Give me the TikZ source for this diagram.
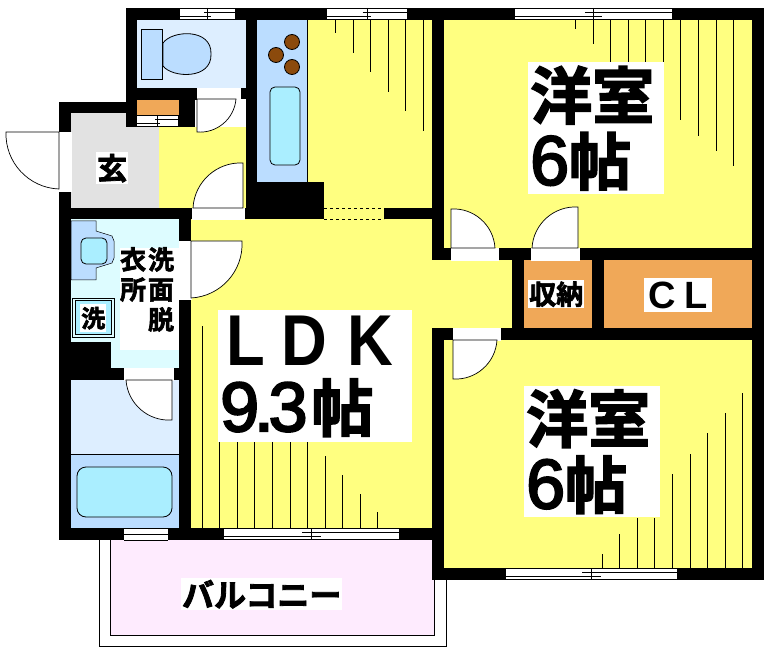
\documentclass[tikz,border=0pt]{standalone}
\usepackage{fontspec}
\setmainfont{Liberation Sans}
\newfontfamily\jpfont[FakeBold=2.5]{Noto Sans CJK JP Bold}
\newfontfamily\numfont[FakeBold=3]{Liberation Sans}
\newfontfamily\capfont[FakeStretch=0.88]{Liberation Sans Bold}
\newfontfamily\clfont{Liberation Sans Bold}

\definecolor{floory}{HTML}{FFFF80}
\definecolor{closet}{HTML}{F0A858}
\definecolor{hallgray}{HTML}{E2E2E2}
\definecolor{palewet}{HTML}{DDEEFF}
\definecolor{paleaqua}{HTML}{DDFCFF}
\definecolor{midblue}{HTML}{BBDDFF}
\definecolor{aqua}{HTML}{AAEEFF}
\definecolor{hob}{HTML}{8B4A0C}
\definecolor{balcony}{HTML}{FEEBFE}

\tikzset{
    wall/.style={fill=black},
    opening/.style={fill=white},
    hatch/.style={line width=0.8pt},
    swing/.style={draw, fill=white, line width=0.7pt},
    thinline/.style={line width=0.8pt},
    fixture/.style={draw, line width=0.8pt},
    roomlabel/.style={fill=white, inner sep=0pt, font=\jpfont, anchor=north west},
}

\begin{document}
\begin{tikzpicture}[x=1pt, y=-1pt]
    \useasboundingbox (0,0) rectangle (768,652);

    % Floor colours
    \fill[floory] (191,219) rectangle (432,528);
    \fill[floory] (432,260) rectangle (512,328);
    \fill[floory] (307,20) rectangle (432,219);
    \fill[floory] (444,20) rectangle (752,248);
    \fill[floory] (444,340) rectangle (752,568);
    \fill[floory] (159,127) rectangle (246,208);
    \fill[hallgray] (71,113) rectangle (159,208);
    \fill[closet] (524,260) rectangle (592,328);
    \fill[closet] (604,260) rectangle (752,328);
    \fill[closet] (137,100) rectangle (179,115);
    \fill[palewet] (137,20) rectangle (246,88);
    \fill[paleaqua] (71,219) rectangle (179,368);
    \fill[palewet] (71,380) rectangle (179,454);
    \fill[midblue] (71,454) rectangle (179,528);
    \fill[midblue] (257,20) rectangle (307,182);
    \draw[thinline] (307,20) -- (307,182);
    \draw[thinline] (71,454) -- (179,454);

    % Balcony
    \draw[thinline, fill=balcony] (110,540) -- (110,635) -- (434,635) -- (434,540);
    \draw[thinline] (99,540) -- (99,646) -- (446,646) -- (446,580);

    % Sloped ceiling marks in the rooms
    \foreach \xx/\yy in {335/33,353/53,370/72,388/92,405/111,423/131,
                         575/29,593/44,610/62,628/62,645/62,663/62,680/120,698/136,716/151,733/166} {
        \draw[hatch] (\xx,20) -- (\xx,\yy);
    }
    \foreach \xx/\yy in {202/326,219/442,237/442,254/442,272/442,290/442,307/442,325/456,342/475,360/494,377/512} {
        \draw[hatch] (\xx,528) -- (\xx,\yy);
    }
    \foreach \xx/\yy in {602/554,619/534,637/518,654/518,672/474,690/454,707/433,725/413,742/393} {
        \draw[hatch] (\xx,568) -- (\xx,\yy);
    }

    % Walls
    \foreach \xa/\ya/\xb/\yb in {126/8/180/20, 235/8/327/20, 407/8/515/20, 672/8/764/20,
                                 126/8/137/127, 126/88/197/100, 240/88/257/99, 179/88/195/127,
                                 178/115/195/127, 59/102/137/113, 59/102/71/132, 59/191/71/540,
                                 59/208/192/219, 244/208/257/219, 246/8/257/208, 246/182/324/219,
                                 179/219/191/241, 179/299/191/528, 71/342/111/368, 71/368/124/380,
                                 173/368/191/380, 59/528/124/540, 168/528/224/540, 399/528/444/540,
                                 432/8/444/260, 384/208/432/219, 432/248/451/260, 498/248/531/260,
                                 579/248/764/260, 432/328/453/340, 500/328/764/340, 512/260/524/328,
                                 592/260/604/328, 752/8/764/580, 432/328/444/580, 432/568/506/580,
                                 677/568/764/580} {
        \fill[wall] (\xa,\ya) rectangle (\xb,\yb);
    }

    % Door openings
    \foreach \xa/\ya/\xb/\yb in {197/88/240/99, 192/208/244/219, 59/132/71/191, 179/241/191/299,
                                 124/368/173/380, 451/248/498/260, 531/248/579/260, 453/328/500/340} {
        \draw[opening, line width=0.4pt, draw=white] (\xa,\ya) rectangle (\xb,\yb);
    }

    % Doors: hinge, leaf end, swing end
    \foreach \hx/\hy/\ax/\ay/\bx/\by/\bend in {197/99/197/132/236/99/right, 243/208/243/163/193/208/right,
                                               59/132/6/132/59/189/right, 191/241/242/241/191/298/left,
                                               172/380/126/380/172/420/right, 451/248/451/209/495/248/left,
                                               578/248/578/207/532/248/right, 453/340/453/379/497/340/right} {
        \draw[swing] (\hx,\hy) -- (\ax,\ay) to[bend \bend=45] (\bx,\by) -- cycle;
    }

    % Windows
    \foreach \xa/\xb/\yy in {180/235/8, 327/407/8, 515/672/8, 137/178/115, 224/399/528, 506/677/568} {
        \pgfmathsetmacro{\xm}{(\xa+\xb)/2}
        \pgfmathsetmacro{\xo}{0.055*(\xb-\xa)}
        \fill[white] (\xa,\yy) rectangle (\xb,\yy+12);
        \draw[thinline] (\xa,\yy) -- (\xb,\yy);
        \draw[thinline] (\xa,\yy+11.5) -- (\xb,\yy+11.5);
        \draw[thinline] (\xm-\xo,\yy+4.5) -- (\xb,\yy+4.5);
        \draw[thinline] (\xa,\yy+8) -- (\xm+\xo,\yy+8);
        \draw[thinline] (\xm,\yy) -- (\xm,\yy+11.5);
    }
    \fill[white] (124,528) rectangle (168,540);
    \foreach \yy in {528,534,540} {
        \draw[thinline] (124,\yy) -- (168,\yy);
    }

    % Dashed opening to the kitchen
    \draw[thinline, dashed] (324,208) -- (384,208);
    \draw[thinline, dashed] (324,219) -- (384,219);

    % Kitchen
    \foreach \xx/\yy in {292/42,276/55,292/67} {
        \draw[fixture, fill=hob] (\xx,\yy) circle (7.5);
    }
    \draw[fixture, fill=aqua, rounded corners=5] (270,87) rectangle (300,165);

    % Toilet
    \draw[fixture, fill=midblue] (163,43) .. controls (172,30) and (212,28) .. (211,54)
        .. controls (212,80) and (172,78) .. (163,66) -- cycle;
    \draw[fixture, fill=midblue] (141,29) rectangle (162,79);

    % Basin
    \draw[fixture, line width=0.5pt, fill=midblue] (71,221) -- (96,221) -- (96,231) -- (112,236) -- (114,241)
        -- (114,258) -- (112,263) -- (96,268) -- (96,280) -- (71,280) -- cycle;
    \draw[fixture, fill=aqua, rounded corners=5] (81,238) rectangle (107,264);

    % Washing machine
    \draw[fixture, line width=0.6pt] (72,298) rectangle (114,337);
    \draw[fixture, line width=0.6pt, fill=aqua] (75,300) rectangle (111,334);

    % Bath
    \draw[fixture, fill=aqua, rounded corners=9] (77,467) rectangle (172,517);

    % Labels
    \node[roomlabel, minimum width=136, minimum height=132, text width=136, align=left,
          font=\jpfont\fontsize{62}{66}\selectfont] (room1) at (528,62)
        {\hspace*{2pt}洋室\\\hspace*{2pt}{\numfont\fontsize{70}{66}\selectfont 6}帖};
    \node[roomlabel, minimum width=136, minimum height=131, text width=136, align=left,
          font=\jpfont\fontsize{62}{66}\selectfont] (room2) at (524,386)
        {\hspace*{2pt}洋室\\\hspace*{2pt}{\numfont\fontsize{70}{66}\selectfont 6}帖};
    \node[roomlabel, minimum width=194, minimum height=132, text width=194, align=left,
          font=\jpfont\fontsize{62}{66}\selectfont] (ldk) at (218,310)
        {\hspace*{8pt}{\capfont\fontsize{72}{66}\selectfont L\hspace{17pt}D\hspace{20pt}K}\\%
         \hspace*{2pt}{\numfont\fontsize{70}{66}\selectfont 9\hspace{-5pt}.\hspace{-5pt}3}\hspace{4pt}帖};
    \node[roomlabel, minimum width=32, minimum height=32, font=\jpfont\fontsize{30}{30}\selectfont] (entry) at (96,152) {玄};
    \node[roomlabel, minimum width=56, minimum height=28, font=\jpfont\fontsize{27}{27}\selectfont] (nando) at (528,280) {収納};
    \node[roomlabel, minimum width=68, minimum height=34, font=\clfont\fontsize{38}{38}\selectfont] (closetlabel) at (644,278) {C\hspace{8pt}L};
    \node[roomlabel, minimum width=161, minimum height=32, font=\jpfont\fontsize{32}{32}\selectfont] (veranda) at (181,578) {バルコニー};
    \node[roomlabel, minimum width=59, minimum height=102] (washbox) at (120,248) {};
    \node[roomlabel, text width=26, align=center, anchor=north, fill=none, font=\jpfont\fontsize{26}{30}\selectfont] (wash1) at (161,247) {洗\\面\\脱};
    \node[roomlabel, text width=26, align=center, anchor=north, fill=none, font=\jpfont\fontsize{26}{30}\selectfont] (wash2) at (133,247) {衣\\所};
    \node[roomlabel, minimum width=26, minimum height=28, font=\jpfont\fontsize{24}{24}\selectfont] (machine) at (80,304) {洗};
\end{tikzpicture}
\end{document}
